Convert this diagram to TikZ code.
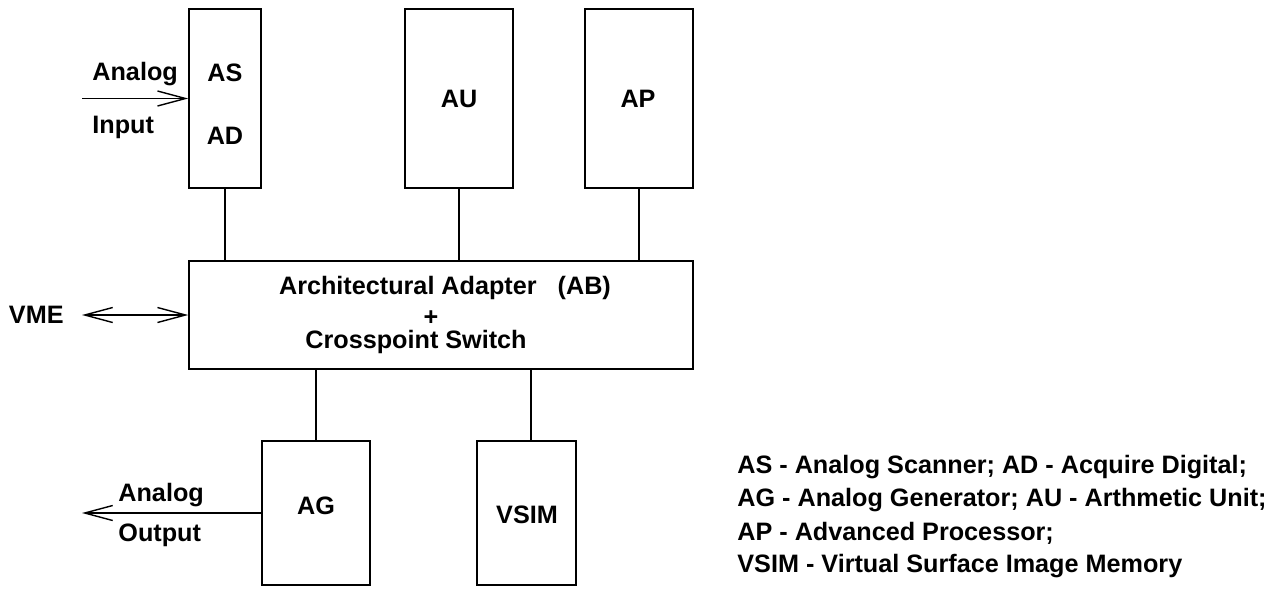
\documentclass[tikz,border=0pt]{standalone}
\usepackage{fontspec}
\setmainfont{Liberation Sans}
\usetikzlibrary{arrows.meta}
\newcommand{\pxScale}[0]{0.5pt}

\begin{document}
\begin{tikzpicture}[x=\pxScale, y=-\pxScale, font=\bfseries\fontsize{12.6}{15}\selectfont]
  \tikzset{unitbox/.style={draw,line width=0.8pt,inner sep=0pt},
    tag/.style={inner sep=0pt},
    wire/.style={line width=0.7pt},
    barb/.tip={Straight Barb[length=14pt,width=7.5pt]}}
  \useasboundingbox (0,0) rectangle (1280,590);
  % units
  \node[unitbox, minimum width=36pt, minimum height=89.5pt] (asad) at (225,98.5) {};
  \node[unitbox, minimum width=54pt, minimum height=89.5pt] (au) at (459,98.5) {};
  \node[unitbox, minimum width=54pt, minimum height=89.5pt] (ap) at (639,98.5) {};
  \node[unitbox, minimum width=252pt, minimum height=54pt] (ab) at (441,315) {};
  \node[unitbox, minimum width=54pt, minimum height=72pt] (ag) at (316,513) {};
  \node[unitbox, minimum width=49.5pt, minimum height=72pt] (vsim) at (526.5,513) {};
  % texts in the units
  \node[tag] (astext) at (225,73) {AS};
  \node[tag] (adtext) at (225,136) {AD};
  \node[tag] (autext) at (459,99) {AU};
  \node[tag] (aptext) at (638,99) {AP};
  \node[tag] (abtext) at (445,288) {Architectural Adapter\ \ \ (AB)};
  \node[tag] (plustext) at (431,318) {+};
  \node[tag] (cstext) at (416,342) {Crosspoint Switch};
  \node[tag] (agtext) at (316,506) {AG};
  \node[tag] (vsimtext) at (527,515) {VSIM};
  % links to the adapter
  \draw[wire] (asad.south) -- (asad.south |- ab.north);
  \draw[wire] (au.south) -- (au.south |- ab.north);
  \draw[wire] (ap.south) -- (ap.south |- ab.north);
  \draw[wire] (ag.north) -- (ag.north |- ab.south);
  \draw[wire] ([xshift=2.25pt]vsim.north) -- ([xshift=2.25pt]vsim.north |- ab.south);
  % outside signals
  \coordinate (inend) at (82,98.5);
  \draw[wire,-barb] (inend) -- (asad.west);
  \node[tag, anchor=west] (inlabel) at (92,74) {Analog};
  \node[tag, anchor=west] (inlabel2) at (92,127) {Input};
  \node[tag, anchor=east] (vme) at (64,315) {VME};
  \coordinate (vmeend) at (82,315);
  \draw[wire,barb-barb] (vmeend) -- (ab.west);
  \coordinate (outend) at (82,513);
  \draw[wire,-barb] (ag.west) -- (outend);
  \node[tag, anchor=west] (outlabel) at (118,495) {Analog};
  \node[tag, anchor=west] (outlabel2) at (118,535) {Output};
  % legend
  \node[tag, anchor=west] (leg1) at (737,467) {AS - Analog Scanner; AD - Acquire Digital;};
  \node[tag, anchor=west] (leg2) at (737,500) {AG - Analog Generator; AU - Arthmetic Unit;};
  \node[tag, anchor=west] (leg3) at (737,533) {AP - Advanced Processor;};
  \node[tag, anchor=west] (leg4) at (737,566) {VSIM - Virtual Surface Image Memory};
\end{tikzpicture}
\end{document}
